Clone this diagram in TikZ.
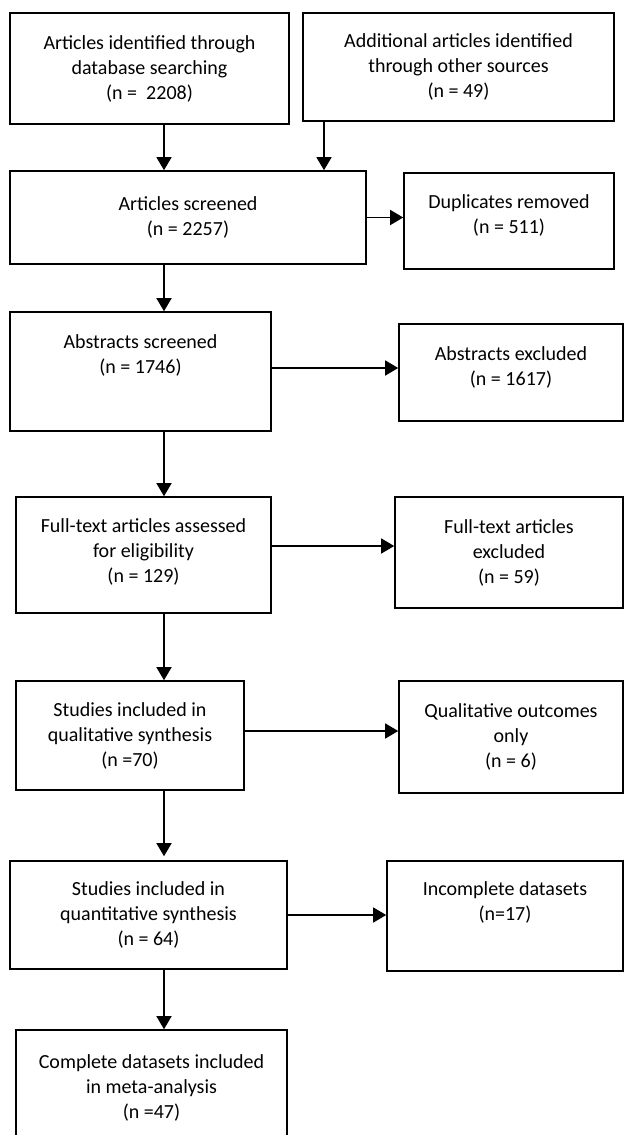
\documentclass[tikz,border=0pt]{standalone}
\usepackage{fontspec}
\setmainfont{Carlito}
\usetikzlibrary{arrows.meta}
\begin{document}
\begin{tikzpicture}[>={Triangle[length=6.5pt,width=7.5pt]},x=0.5pt,y=-0.5pt,
	box/.style={draw,line width=0.8pt,align=center,inner sep=0pt,font=\fontsize{10}{12.5}\selectfont},
	arr/.style={->,line width=0.7pt}]
	\useasboundingbox (0,0) rectangle (624,1135);
	\clip (0,0) rectangle (624,1135);
	\coordinate (spine) at (164,0); % x of the main column of arrows
	% left column
	\node[box,minimum width=139.5pt,minimum height=55.5pt] (ident) at (149.5,68.5) {Articles identified through\\database searching\\(n = \ 2208)};
	\node[box,minimum width=155.5pt,minimum height=54pt] (other) at (458.5,67) {Additional articles identified\\through other sources\\(n = 49)};
	\node[box,minimum width=178pt,minimum height=46.5pt] (screen) at (188,217.5) {Articles screened\\(n = 2257)};
	\node[box,minimum width=130.5pt,minimum height=59.5pt,text depth=17.5pt] (abs) at (140.5,371.5) {Abstracts screened\\(n = 1746)};
	\node[box,minimum width=127.5pt,minimum height=58pt,text depth=4pt] (full) at (143.5,555) {Full-text articles assessed\\for eligibility\\(n = 129)};
	\node[box,minimum width=113.75pt,minimum height=54.5pt] (qual) at (130,735.5) {Studies included in\\qualitative synthesis\\(n =70)};
	\node[box,minimum width=138.5pt,minimum height=54pt] (quant) at (148.5,915) {Studies included in\\quantitative synthesis\\(n = 64)};
	\node[box,minimum width=135.5pt,minimum height=58pt] (meta) at (151.5,1088) {Complete datasets included\\in meta-analysis\\(n =47)};
	% right column
	\node[box,minimum width=105pt,minimum height=48pt,text depth=6.5pt] (dup) at (509,221) {Duplicates removed\\(n = 511)};
	\node[box,minimum width=112pt,minimum height=48.5pt,text depth=6pt] (absex) at (511,372.5) {Abstracts excluded\\(n = 1617)};
	\node[box,minimum width=114pt,minimum height=55.5pt] (fullex) at (509,552.5) {Full-text articles\\excluded\\(n = 59)};
	\node[box,minimum width=112pt,minimum height=56pt] (qualonly) at (511,737) {Qualitative outcomes\\only\\(n = 6)};
	\node[box,minimum width=118pt,minimum height=55pt,text depth=14.5pt] (incomp) at (505,916) {Incomplete datasets\\(n=17)};
	% arrows
	\draw[arr] (ident.south -| spine) -- (screen.north -| spine);
	\draw[arr] (other.south -| 324,0) -- (screen.north -| 324,0);
	\draw[arr] (screen.south -| spine) -- (abs.north -| spine);
	\draw[arr] (abs.south -| spine) -- (full.north -| spine);
	\draw[arr] (full.south -| spine) -- (qual.north -| spine);
	\draw[arr] (qual.south -| spine) -- ([yshift=2pt]quant.north -| spine);
	\draw[arr] (quant.south -| spine) -- (meta.north -| spine);
	\draw[arr] (screen.east) -- (screen.east -| dup.west);
	\draw[arr] ([yshift=1.75pt]abs.east) -- ([yshift=1.75pt]abs.east -| absex.west);
	\draw[arr] ([yshift=4.5pt]full.east) -- ([yshift=4.5pt]full.east -| fullex.west);
	\draw[arr] ([yshift=2.25pt]qual.east) -- ([yshift=2.25pt]qual.east -| qualonly.west);
	\draw[arr] (quant.east) -- (quant.east -| incomp.west);
\end{tikzpicture}
\end{document}
